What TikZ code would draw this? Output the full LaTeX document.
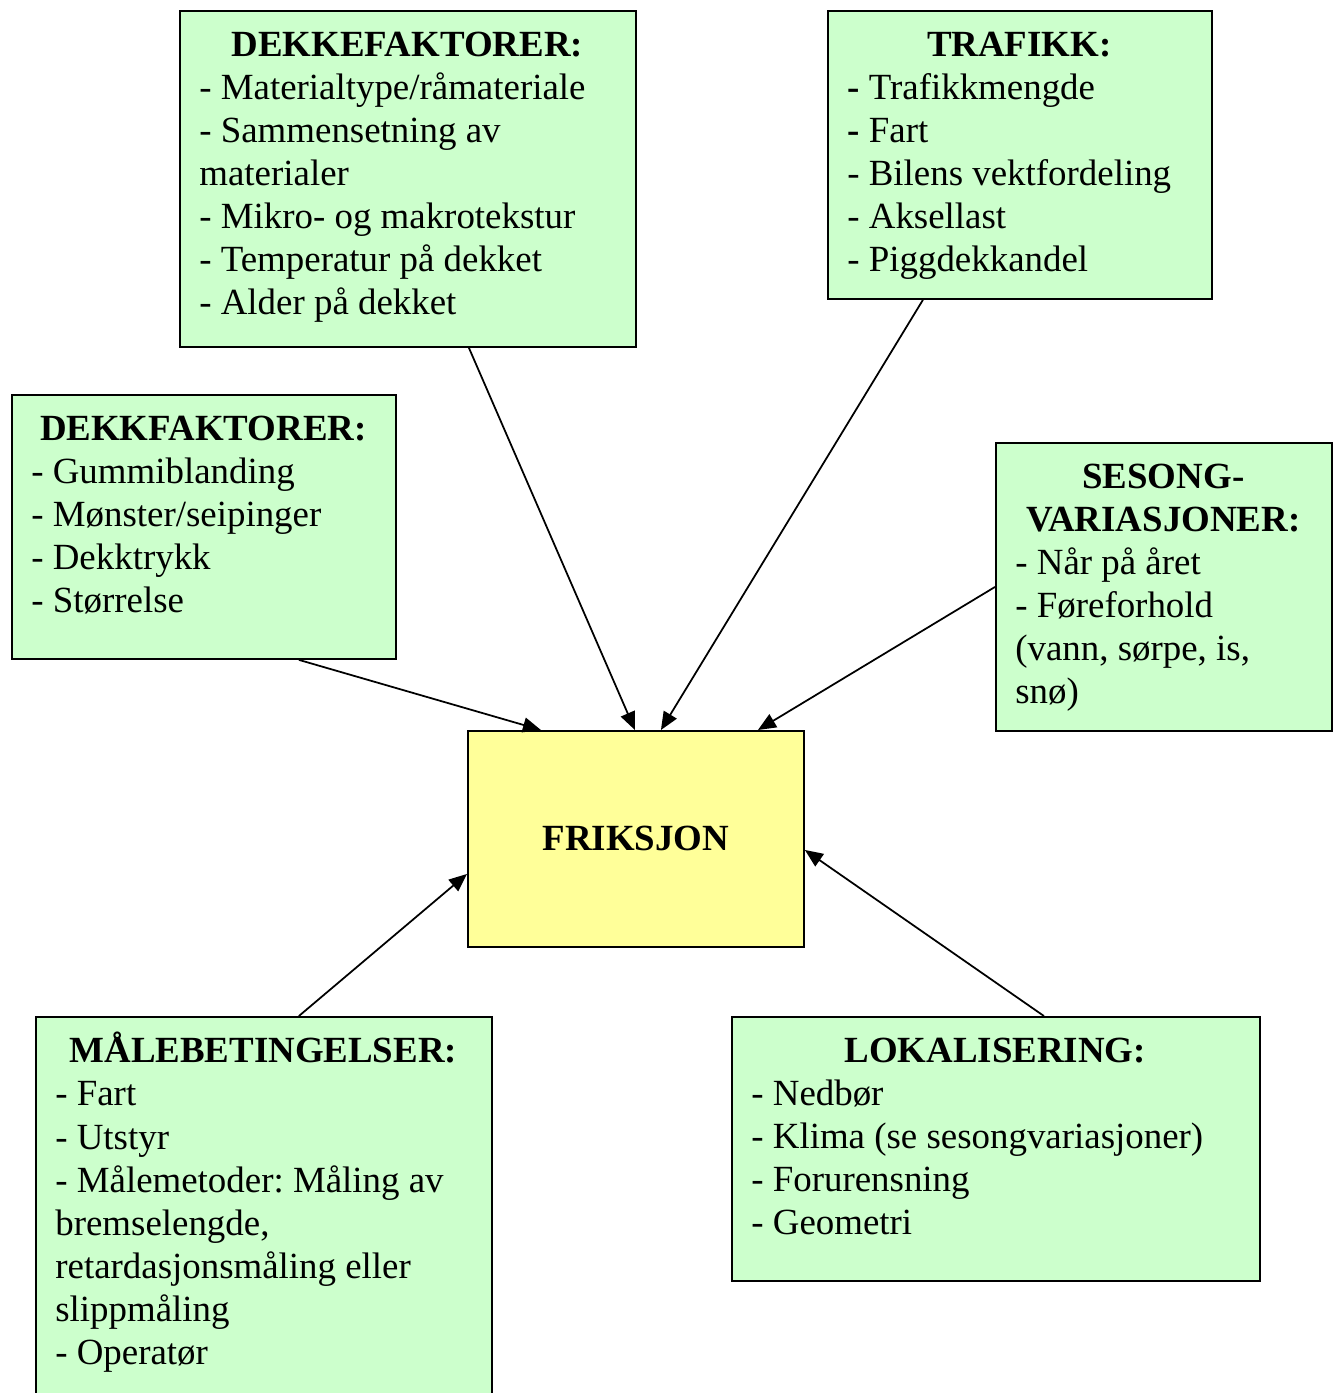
\documentclass[tikz,border=0pt]{standalone}
\usepackage{fontspec}
\setmainfont{Liberation Serif}
\usetikzlibrary{calc,arrows.meta}
\definecolor{boksgronn}{RGB}{204,255,204}
\definecolor{boksgul}{RGB}{255,255,153}
\newcommand*{\Tittel}[1]{\makebox[\linewidth]{\strut\textbf{#1}}}
\newcommand*{\Bokser}[1]{% #1 = list of navn/x/y/bredde/hoyde
  \foreach \navn/\x/\y/\bredde/\hoyde in {#1} {
    \node [boks, minimum width=\bredde cm, minimum height=\hoyde cm] (\navn) at (\x,\y) {};
    }%
}

\begin{document}
\begin{tikzpicture}[x=0.02cm, y=-0.02cm,
    boks/.style={draw=black, line width=1.1pt, fill=boksgronn, anchor=north west, inner sep=0pt},
    tekst/.style={anchor=north west, align=flush left, inner xsep=0.4cm, inner ysep=0.32cm,
      font=\fontsize{21}{24.5}\selectfont\frenchspacing},
    pil/.style={-{Triangle[length=0.36cm,width=0.3cm]}, line width=1pt}]
    \useasboundingbox (0,0) rectangle (1339,1393);
    \clip (0,0) rectangle (1339,1393);

    \Bokser{
        dekke/179/10/9.12/6.72,
        trafikk/827/10/7.68/5.76,
        dekkf/11/394/7.68/5.28,
        sesong/995/442/6.72/5.76,
        maale/35/1016/9.12/8.0,
        lokal/731/1016/10.56/5.28
    }
    \node [boks, fill=boksgul, minimum width=6.72cm, minimum height=4.32cm,
      font=\fontsize{21}{24.5}\selectfont] (friksjon) at (467,730) {\textbf{FRIKSJON}};

    % tekst i boksene
    \node [tekst, text width=8.32cm] (dekke-tekst) at (dekke.north west) {\Tittel{DEKKEFAKTORER:}\\
      - Materialtype/råmateriale\\
      - Sammensetning av\\
      materialer\\
      - Mikro- og makrotekstur\\
      - Temperatur på dekket\\
      - Alder på dekket};
    \node [tekst, text width=6.88cm] (trafikk-tekst) at (trafikk.north west) {\Tittel{TRAFIKK:}\\
      \textbf{-} Trafikkmengde\\
      \textbf{-} Fart\\
      - Bilens vektfordeling\\
      - Aksellast\\
      - Piggdekkandel};
    \node [tekst, text width=6.88cm] (dekkf-tekst) at (dekkf.north west) {\Tittel{DEKKFAKTORER:}\\
      - Gummiblanding\\
      - Mønster/seipinger\\
      - Dekktrykk\\
      - Størrelse};
    \node [tekst, text width=5.92cm] (sesong-tekst) at (sesong.north west) {\Tittel{SESONG-}\\
      \Tittel{VARIASJONER:}\\
      - Når på året\\
      - Føreforhold\\
      (vann, sørpe, is,\\
      snø)};
    \node [tekst, text width=8.32cm] (maale-tekst) at (maale.north west) {\Tittel{MÅLEBETINGELSER:}\\
      - Fart\\
      - Utstyr\\
      - Målemetoder: Måling av\\
      bremselengde,\\
      retardasjonsmåling eller\\
      slippmåling\\
      - Operatør};
    \node [tekst, text width=9.76cm] (lokal-tekst) at (lokal.north west) {\Tittel{LOKALISERING:}\\
      - Nedbør\\
      - Klima (se sesongvariasjoner)\\
      - Forurensning\\
      - Geometri};

    % piler inn mot friksjon
    \draw [pil] ($(dekke.south)+(61,0)$) -- ($(friksjon.north)+(-1,0)$);
    \draw [pil] ($(trafikk.south)+(-97,0)$) -- ($(friksjon.north)+(25,0)$);
    \draw [pil] ($(dekkf.south)+(95,0)$) -- ($(friksjon.north)+(-95,0)$);
    \draw [pil] (sesong.west) -- ($(friksjon.north)+(122,0)$);
    \draw [pil] ($(maale.north)+(35,0)$) -- ($(friksjon.west)+(0,35)$);
    \draw [pil] ($(lokal.north)+(48,0)$) -- ($(friksjon.east)+(0,11)$);
\end{tikzpicture}
\end{document}
